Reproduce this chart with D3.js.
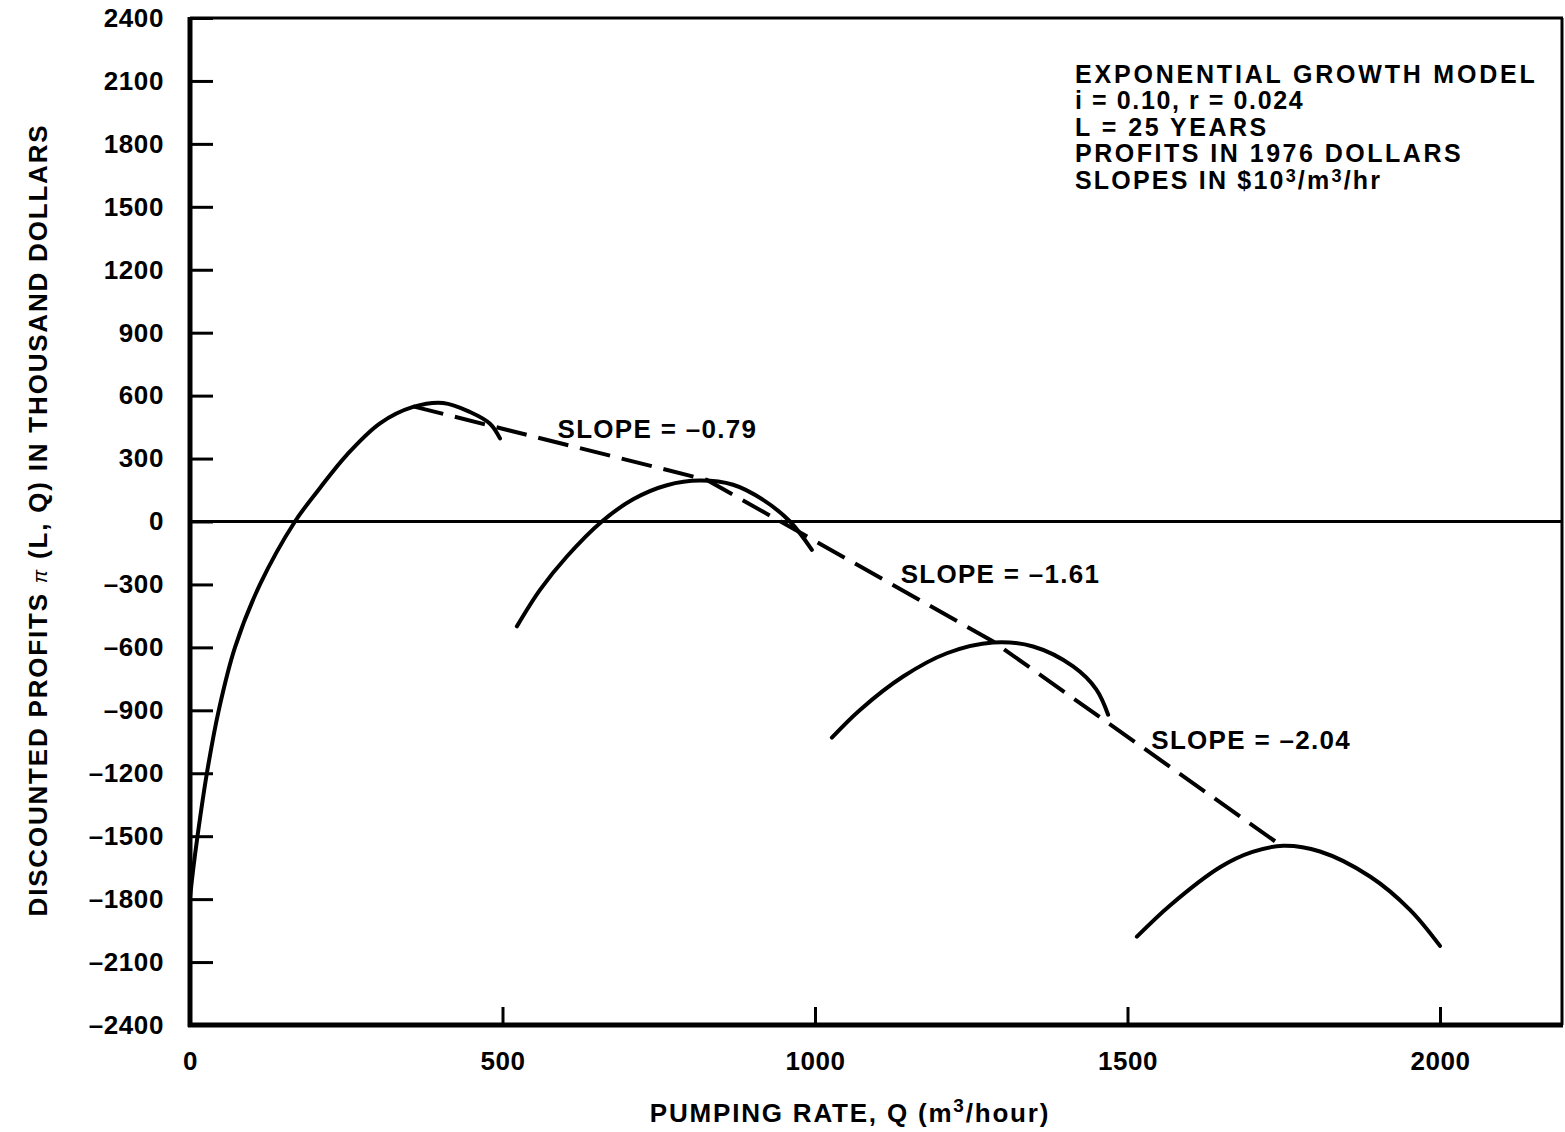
<!DOCTYPE html>
<html>
<head>
<meta charset="utf-8">
<script src="https://cdn.jsdelivr.net/npm/d3@7"></script>
<style>
  body { margin: 0; background: #fff; }
  text { font-family: 'Liberation Sans', Arial, Helvetica, sans-serif; font-weight: bold; fill: #000; }
</style>
</head>
<body>
<svg id="chart" width="1565" height="1132"></svg>
<script>
// profit curves, [Q (m3/hour), profit (thousand $)]
const curve1 = [[0, -1790], [5, -1660], [12, -1500], [27, -1200], [46, -900], [72, -600],
  [112, -300], [168, 0], [208, 160], [251, 318], [304, 468], [357, 546], [405, 565],
  [448, 522], [480, 466], [496, 396]];
const curve2 = [[523, -500], [560, -326], [603, -167], [659, 0], [709, 106], [763, 173],
  [816, 195], [869, 175], [917, 103], [960, 0], [995, -135]];
const curve3 = [[1027, -1030], [1072, -898], [1141, -739], [1211, -628], [1285, -577],
  [1349, -596], [1413, -691], [1450, -800], [1469, -921]];
const curve4 = [[1515, -1979], [1568, -1830], [1648, -1648], [1700, -1575], [1749, -1546],
  [1808, -1573], [1888, -1692], [1952, -1851], [2000, -2023]];

// dashed tangent line through the optimum points
const envelope = [[357, 549], [827, 198], [1285, -572], [1744, -1541]];

const slopeLabels = [
  { text: 'SLOPE = \u20130.79', q: 588, p: 400 },
  { text: 'SLOPE = \u20131.61', q: 1137, p: -292 },
  { text: 'SLOPE = \u20132.04', q: 1538, p: -1083 },
];

const notes = [
  'EXPONENTIAL GROWTH MODEL',
  'i = 0.10, r = 0.024',
  'L = 25 YEARS',
  'PROFITS IN 1976 DOLLARS',
];
const noteSpacing = [2.8, 1.6, 2.5, 2.5];

const xTicks = [0, 500, 1000, 1500, 2000];
const yTicks = d3.range(-2400, 2401, 300);

const svg = d3.select('#chart');
const plotLeft = 190, plotRight = 1565, plotTop = 18, plotBottom = 1025;

const x = d3.scaleLinear().domain([0, 2200]).range([plotLeft, plotRight]);
const y = d3.scaleLinear().domain([-2400, 2400]).range([plotBottom, plotTop]);

svg.append('rect').attr('width', 1565).attr('height', 1132).attr('fill', '#fff');

const fmt = (d) => (d < 0 ? '\u2013' + Math.abs(d) : String(d));

const yAxis = svg.append('g')
  .attr('transform', `translate(${plotLeft},0)`)
  .call(d3.axisLeft(y).tickValues(yTicks).tickSizeInner(-23).tickSizeOuter(0)
    .tickPadding(26).tickFormat(fmt));
yAxis.select('.domain').remove();
yAxis.selectAll('line').attr('stroke', '#000').attr('stroke-width', 3);
yAxis.selectAll('text').style('font-size', '26px').attr('letter-spacing', 0.6);

const xAxis = svg.append('g')
  .attr('transform', `translate(0,${plotBottom})`)
  .call(d3.axisBottom(x).tickValues(xTicks).tickSizeInner(-18).tickSizeOuter(0)
    .tickPadding(27).tickFormat(fmt));
xAxis.select('.domain').remove();
xAxis.selectAll('line').attr('stroke', '#000').attr('stroke-width', 3);
xAxis.selectAll('text').style('font-size', '26px').attr('letter-spacing', 0.6);

// frame
svg.append('line').attr('x1', plotLeft).attr('x2', plotLeft).attr('y1', plotTop - 1).attr('y2', plotBottom + 2)
  .attr('stroke', '#000').attr('stroke-width', 5);
svg.append('line').attr('x1', plotLeft - 2).attr('x2', plotRight - 2).attr('y1', plotBottom).attr('y2', plotBottom)
  .attr('stroke', '#000').attr('stroke-width', 5);
svg.append('line').attr('x1', plotLeft).attr('x2', plotRight - 2).attr('y1', plotTop).attr('y2', plotTop)
  .attr('stroke', '#000').attr('stroke-width', 3);
svg.append('line').attr('x1', plotRight - 3).attr('x2', plotRight - 3).attr('y1', plotTop).attr('y2', plotBottom)
  .attr('stroke', '#000').attr('stroke-width', 3);

// zero line
svg.append('line').attr('x1', plotLeft).attr('x2', plotRight - 2).attr('y1', y(0)).attr('y2', y(0))
  .attr('stroke', '#000').attr('stroke-width', 3);

const line = d3.line().x((d) => x(d[0])).y((d) => y(d[1])).curve(d3.curveCatmullRom.alpha(0.5));

[curve1, curve2, curve3, curve4].forEach((c) => {
  svg.append('path').attr('d', line(c)).attr('fill', 'none')
    .attr('stroke', '#000').attr('stroke-width', 4).attr('stroke-linecap', 'round');
});

svg.append('path')
  .attr('d', d3.line().x((d) => x(d[0])).y((d) => y(d[1]))(envelope))
  .attr('fill', 'none').attr('stroke', '#000').attr('stroke-width', 4)
  .attr('stroke-dasharray', '31,12');

slopeLabels.forEach((s) => {
  svg.append('text').attr('x', x(s.q)).attr('y', y(s.p))
    .style('font-size', '26px').attr('letter-spacing', 1.3).text(s.text);
});

// notes block
const noteG = svg.append('g').style('font-size', '25px');
notes.forEach((n, i) => {
  noteG.append('text').attr('x', 1075).attr('y', 83 + i * 26.3)
    .attr('letter-spacing', noteSpacing[i]).text(n);
});
const last = noteG.append('text').attr('x', 1075).attr('y', 189).attr('letter-spacing', 2.2);
last.append('tspan').text('SLOPES IN $10');
last.append('tspan').attr('dy', -7).style('font-size', '18px').text('3');
last.append('tspan').attr('dy', 7).text('/m');
last.append('tspan').attr('dy', -7).style('font-size', '18px').text('3');
last.append('tspan').attr('dy', 7).text('/hr');

// axis titles
const xt = svg.append('text').attr('x', 850).attr('y', 1122).attr('text-anchor', 'middle')
  .style('font-size', '26px').attr('letter-spacing', 1.8);
xt.append('tspan').text('PUMPING RATE, Q (m');
xt.append('tspan').attr('dy', -10).style('font-size', '19px').text('3');
xt.append('tspan').attr('dy', 10).text('/hour)');

const yt = svg.append('text').attr('transform', 'translate(47,520) rotate(-90)')
  .attr('text-anchor', 'middle').style('font-size', '26px').attr('letter-spacing', 1.8);
yt.append('tspan').text('DISCOUNTED PROFITS ');
yt.append('tspan').style('font-style', 'italic').style('font-weight', 'normal').style('font-size', '20px').text('\u03c0');
yt.append('tspan').text(' (L, Q) IN THOUSAND DOLLARS');
</script>
</body>
</html>
